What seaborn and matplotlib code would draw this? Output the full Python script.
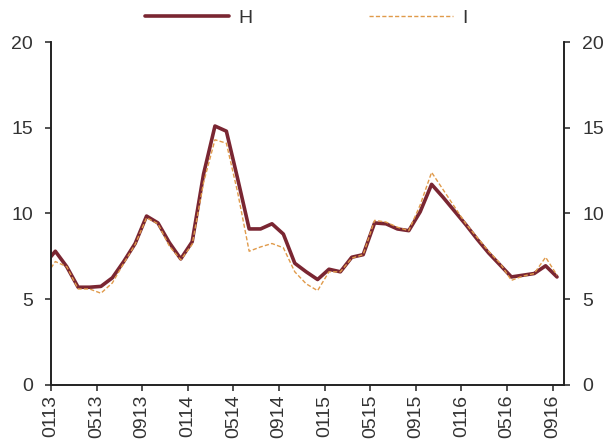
import matplotlib
matplotlib.use("Agg")
import matplotlib.pyplot as plt
import numpy as np
import pandas as pd
import seaborn as sns

# Monthly readings, Dec 2012 through Sep 2016
months = pd.period_range("2012-12", "2016-09", freq="M")
h_values = [7.0, 7.8, 6.9, 5.7, 5.7, 5.75, 6.25, 7.2, 8.25, 9.85, 9.45, 8.3,
            7.35, 8.35, 12.3, 15.1, 14.8, 12.0, 9.1, 9.1, 9.4, 8.8, 7.1, 6.6,
            6.15, 6.75, 6.6, 7.45, 7.6, 9.45, 9.4, 9.1, 9.0, 10.1, 11.7, 10.95,
            10.15, 9.35, 8.5, 7.7, 7.0, 6.3, 6.4, 6.5, 6.95, 6.3]
i_values = [6.2, 7.2, 6.9, 5.6, 5.6, 5.35, 5.95, 7.1, 8.2, 9.75, 9.4, 8.1,
            7.3, 8.2, 11.8, 14.3, 14.1, 11.2, 7.8, 8.05, 8.25, 8.0, 6.6, 5.9,
            5.5, 6.6, 6.6, 7.4, 7.6, 9.6, 9.5, 9.2, 9.0, 10.5, 12.4, 11.4,
            10.4, 9.4, 8.6, 7.8, 7.1, 6.1, 6.35, 6.5, 7.45, 6.4]
series_names = ["H", "I"]
y_ticks = [0, 5, 10, 15, 20]

# month index relative to Jan 2013; readings sit a little after the month tick
month_idx = np.arange(len(months)) - 1
pos = month_idx + 0.38
tick_idx = np.arange(0, 45, 4)
tick_labels = [months[k + 1].strftime("%m%y") for k in tick_idx]

df = pd.DataFrame({
    "pos": np.concatenate([pos, pos]),
    "value": h_values + i_values,
    "series": [series_names[0]] * len(pos) + [series_names[1]] * len(pos),
})

sns.set_theme(style="white")
plt.rcParams["font.family"] = ["Liberation Sans", "DejaVu Sans"]

fig = plt.figure(figsize=(6.13, 4.44), dpi=100)
ax = fig.add_axes([0.0832, 0.1329, 0.8370, 0.7725])

sns.lineplot(data=df[df.series == "H"], x="pos", y="value", ax=ax,
             color="#7a2632", linewidth=2.6, label="H")
sns.lineplot(data=df[df.series == "I"], x="pos", y="value", ax=ax,
             color="#e09a4a", linewidth=1.0, label="I")
ax.lines[1].set_linestyle((0, (3, 1.6)))

ax.set_xlim(0, 45)
ax.set_ylim(0, 20)
ax.set_xticks(tick_idx)
ax.set_xticklabels(tick_labels, rotation=90)
ax.set_yticks(y_ticks)
ax.set_xlabel("")
ax.set_ylabel("")

ax2 = ax.twinx()
ax2.set_ylim(0, 20)
ax2.set_yticks(y_ticks)

for a in (ax, ax2):
    a.spines["top"].set_visible(False)
    for s in ("left", "right", "bottom"):
        a.spines[s].set_color("#222222")
        a.spines[s].set_linewidth(1.2)
    a.tick_params(axis="both", direction="out", length=4, width=1.1,
                  color="#222222", labelsize=14, labelcolor="#333333", pad=3)
ax.tick_params(axis="y", left=True, right=False, pad=9)
ax.tick_params(axis="x", bottom=True)
ax2.tick_params(axis="y", right=True, left=False, pad=9)

leg = ax.legend(loc="center", bbox_to_anchor=(0.5, 0.959),
                bbox_transform=fig.transFigure, ncol=2, frameon=False,
                fontsize=14, handlelength=4.3, columnspacing=6.0,
                handletextpad=0.5)
for t in leg.get_texts():
    t.set_color("#333333")

fig.savefig("out.png", dpi=100)
